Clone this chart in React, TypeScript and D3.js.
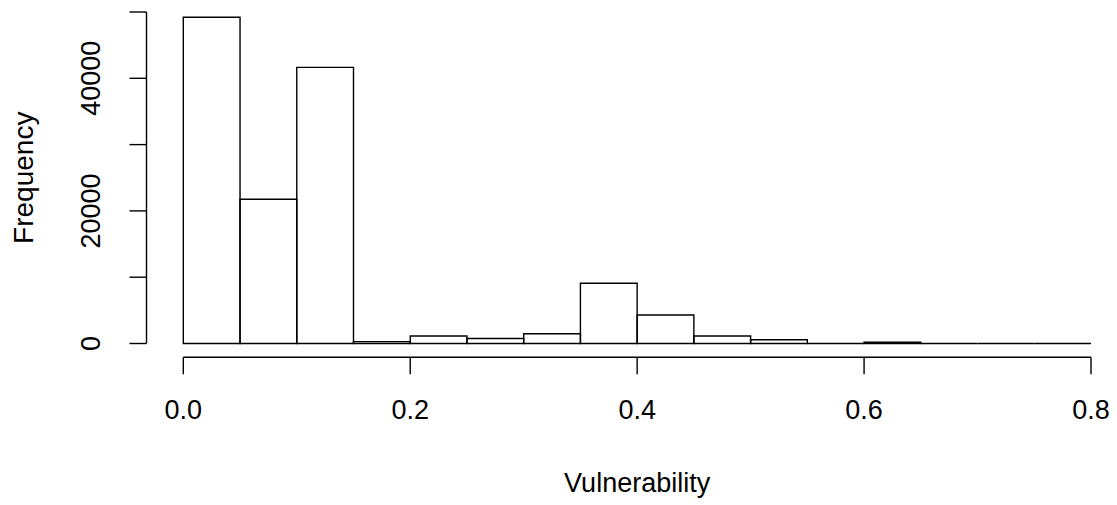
import React from "react";
import { scaleLinear } from "d3";

const width = 1117;
const height = 505;

// histogram bins, width 0.05, from 0 to 0.8
const binStarts = [0, 0.05, 0.1, 0.15, 0.2, 0.25, 0.3, 0.35, 0.4, 0.45, 0.5, 0.55, 0.6, 0.65, 0.7, 0.75];
const binWidth = 0.05;
const counts = [49200, 21750, 41650, 280, 1130, 760, 1480, 9080, 4300, 1120, 570, 0, 180, 0, 0, 0];

const xTicks = [0, 0.2, 0.4, 0.6, 0.8];
const xTickLabels = ["0.0", "0.2", "0.4", "0.6", "0.8"];
const yTicks = [0, 10000, 20000, 30000, 40000, 50000];
const yTickLabels = ["0", "20000", "40000"];
const yLabelValues = [0, 20000, 40000];

const xLabel = "Vulnerability";
const yLabel = "Frequency";

const font = "'Liberation Sans', Arial, sans-serif";
const fontSize = 27;

const x = scaleLinear().domain([0, 0.8]).range([183.3, 1091]);
const y = scaleLinear().domain([0, 50000]).range([343.5, 12]);

const xAxisY = 357.3;
const yAxisX = 146.5;
const tickLen = 17;

export default function App() {
  return (
    <svg
      width={width}
      height={height}
      style={{ position: "absolute", left: 0, top: 0, background: "#fff" }}
    >
      <rect x={0} y={0} width={width} height={height} fill="#fff" />
      {/* bars, drawn as closed outlines so empty bins still show as a line */}
      <g stroke="#000" strokeWidth={1.4} fill="none">
        {counts.map((c, i) => {
          const x0 = x(binStarts[i]);
          const x1 = x(binStarts[i] + binWidth);
          const yb = y(0);
          const yt = y(c);
          return (
            <path key={i} d={`M${x0},${yb}H${x1}V${yt}H${x0}Z`} />
          );
        })}
      </g>

      {/* x axis */}
      <g stroke="#000" strokeWidth={1.4}>
        <line x1={x(0)} x2={x(0.8)} y1={xAxisY} y2={xAxisY} />
        {xTicks.map((t) => (
          <line key={t} x1={x(t)} x2={x(t)} y1={xAxisY} y2={xAxisY + tickLen} />
        ))}
      </g>
      <g fontFamily={font} fontSize={fontSize} fill="#000" textAnchor="middle">
        {xTicks.map((t, i) => (
          <text key={t} x={x(t)} y={419}>
            {xTickLabels[i]}
          </text>
        ))}
      </g>

      {/* y axis */}
      <g stroke="#000" strokeWidth={1.4}>
        <line x1={yAxisX} x2={yAxisX} y1={y(0)} y2={y(50000)} />
        {yTicks.map((t) => (
          <line key={t} x1={yAxisX - tickLen} x2={yAxisX} y1={y(t)} y2={y(t)} />
        ))}
      </g>
      <g fontFamily={font} fontSize={fontSize} fill="#000" textAnchor="middle">
        {yLabelValues.map((t, i) => (
          <text key={t} transform={`translate(100,${y(t)}) rotate(-90)`}>
            {yTickLabels[i]}
          </text>
        ))}
      </g>

      {/* axis titles */}
      <text
        x={(x(0) + x(0.8)) / 2}
        y={492}
        fontFamily={font}
        fontSize={fontSize}
        textAnchor="middle"
      >
        {xLabel}
      </text>
      <text
        transform={`translate(33,${(y(0) + y(50000)) / 2}) rotate(-90)`}
        fontFamily={font}
        fontSize={28}
        textAnchor="middle"
      >
        {yLabel}
      </text>
    </svg>
  );
}
